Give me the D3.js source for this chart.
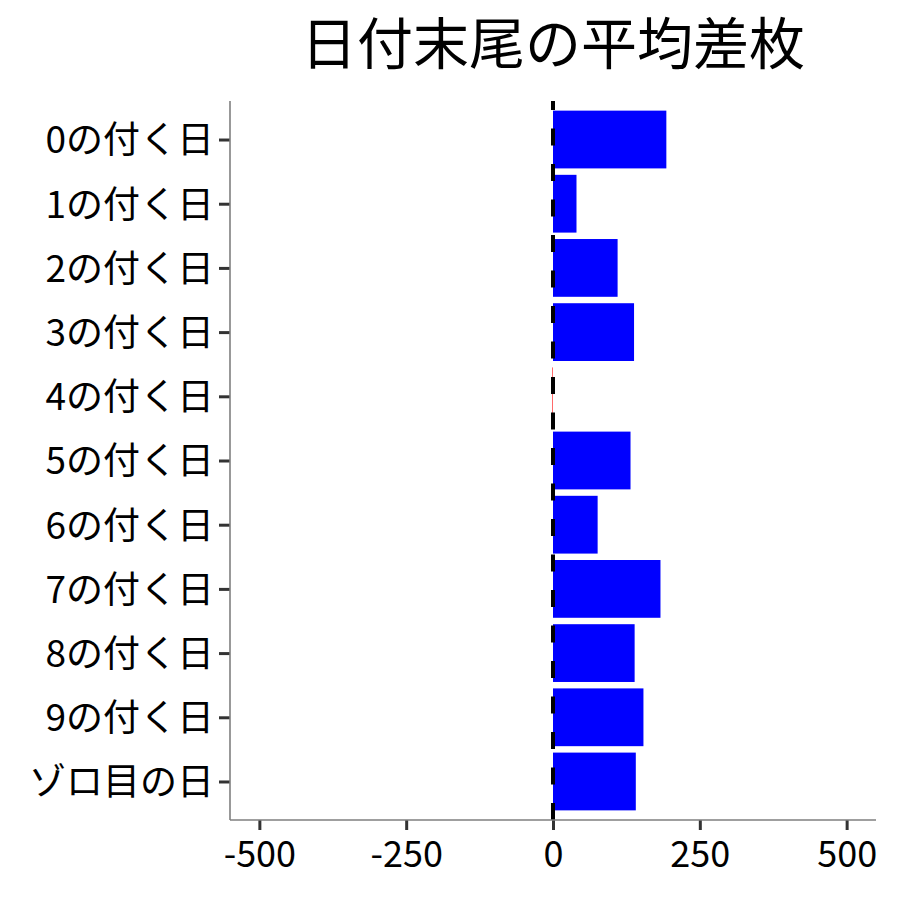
<!DOCTYPE html>
<html>
<head>
<meta charset="utf-8">
<script src="https://cdn.jsdelivr.net/npm/d3@7"></script>
<style>
  html, body { margin: 0; padding: 0; background: #fff; }
  svg { display: block; }
  text { font-family: "Noto Sans CJK JP", "Noto Sans", sans-serif; fill: #000; }
</style>
</head>
<body>
<svg id="chart" width="900" height="900"></svg>
<script>
const title = "日付末尾の平均差枚";
const categories = ["0の付く日","1の付く日","2の付く日","3の付く日","4の付く日","5の付く日","6の付く日","7の付く日","8の付く日","9の付く日","ゾロ目の日"];
const values = [193, 40, 110, 138, -1, 132, 76, 183, 139, 154, 141];
const xTicks = [-500, -250, 0, 250, 500];
const xDomain = [-550, 550];

const svg = d3.select("#chart");
const pLeft = 230, pRight = 876, pTop = 101, pBottom = 820;

const x = d3.scaleLinear().domain(xDomain).range([pLeft, pRight]);
const y = d3.scalePoint().domain(categories).range([pTop, pBottom]).padding(0.6);
const bh = y.step() * 0.9;

// bars
svg.append("g").selectAll("rect")
  .data(categories.map((c, i) => ({c, v: values[i]})))
  .join("rect")
  .attr("x", d => Math.min(x(0), x(d.v)))
  .attr("width", d => Math.abs(x(d.v) - x(0)))
  .attr("y", d => y(d.c) - bh / 2)
  .attr("height", bh)
  .attr("fill", d => d.v >= 0 ? "#0000FF" : "#FF0000");

// dashed zero line (drawn bottom to top)
svg.append("line")
  .attr("x1", x(0)).attr("x2", x(0))
  .attr("y1", pBottom).attr("y2", pTop)
  .attr("stroke", "#000")
  .attr("stroke-width", 4)
  .attr("stroke-dasharray", "17,18.5");

// x axis
const xAxis = svg.append("g").attr("transform", `translate(0,${pBottom})`)
  .call(d3.axisBottom(x).tickValues(xTicks).tickSize(10).tickPadding(8).tickFormat(d => String(d)));
xAxis.select(".domain").remove();
xAxis.selectAll(".tick line").attr("stroke", "#333").attr("stroke-width", 3);
xAxis.selectAll(".tick text").attr("font-size", 36).attr("fill", "#000")
  .attr("font-family", '"Noto Sans CJK JP", sans-serif').attr("dy", "0.8em");

// y axis
const yAxis = svg.append("g").attr("transform", `translate(${pLeft},0)`)
  .call(d3.axisLeft(y).tickSize(11).tickPadding(5));
yAxis.select(".domain").remove();
yAxis.selectAll(".tick line").attr("stroke", "#333").attr("stroke-width", 3);
yAxis.selectAll(".tick text").attr("font-size", 37).attr("fill", "#000")
  .attr("font-family", '"Noto Sans CJK JP", sans-serif').attr("dy", "0.36em");

// axis lines
svg.append("line").attr("x1", pLeft).attr("x2", pLeft).attr("y1", pTop).attr("y2", pBottom)
  .attr("stroke", "#7f7f7f").attr("stroke-width", 1.6);
svg.append("line").attr("x1", pLeft).attr("x2", pRight).attr("y1", pBottom).attr("y2", pBottom)
  .attr("stroke", "#7f7f7f").attr("stroke-width", 1.6);

// title
svg.append("text")
  .attr("x", (pLeft + pRight) / 2)
  .attr("y", 64)
  .attr("text-anchor", "middle")
  .attr("font-size", 56)
  .text(title);
</script>
</body>
</html>
